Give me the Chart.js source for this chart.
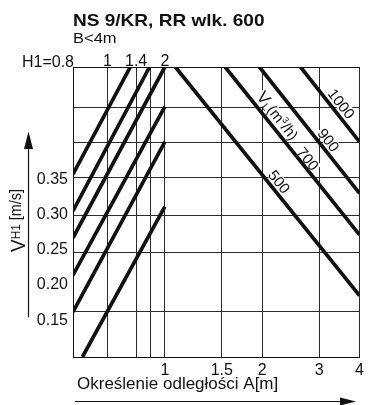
<!DOCTYPE html>
<html>
<head>
<meta charset="utf-8">
<script src="https://cdn.jsdelivr.net/npm/chart.js@4.4.0/dist/chart.umd.min.js"></script>
<style>
  html, body { margin: 0; padding: 0; background: #fff; }
  #wrap { width: 368px; height: 405px; position: relative; }
</style>
</head>
<body>
<div id="wrap"><canvas id="c"></canvas></div>
<script>
// ---- values of the nomogram ------------------------------------------
// distance A [m] (bottom, logarithmic)
const distanceTicks = [1, 1.5, 2, 3, 4];
const distanceRange = [0.52, 4];
// extra vertical rulings in the H1 part, and the H1 marks printed above them
const h1Rulings = [0.665, 0.815, 0.904];
const h1TickValues = [0.665, 0.815, 1];
const h1TickLabels = ['1', '1.4', '2'];
const h1StartLabel = 'H1=0.8';
// supply speed V_H1 [m/s]
const speedTicks = [0.15, 0.20, 0.25, 0.30, 0.35];
const speedRange = [0.098, 0.509];
const speedRulings = [0.162, 0.246, 0.299, 0.352, 0.402, 0.452];

// H1 family: six parallel lines, [start, end] for A and for V
const h1LineA = [[0.52, 0.782], [0.52, 0.897], [0.52, 1], [0.52, 1], [0.52, 1], [0.556, 1]];
const h1LineV = [[0.357, 0.509], [0.305, 0.509], [0.267, 0.509], [0.214, 0.453], [0.162, 0.403], [0.098, 0.311]];

// air volume family V_L [m3/h]
const flowLabels = ['500', '700', '900', '1000'];
const flowLineA = [[1.078, 4], [1.536, 4], [1.961, 4], [2.628, 4]];
const flowLineV = [[0.509, 0.185], [0.509, 0.271], [0.509, 0.330], [0.509, 0.403]];

// ---- drawing ------------------------------------------------------------
const FONT = '"Liberation Sans", Arial, Helvetica, sans-serif';
const INK = '#111';
const RULE = '#2b2b2b';

// where each flow label sits along its line (fraction t) and how far off it
const flowLabelPlace = [
  { t: 0.526, off: 9 },
  { t: 0.574, off: 7.5 },
  { t: 0.622, off: 9 },
  { t: 0.568, off: 9.5 }
];
const unitLabelPlace = { series: 1, t: 0.33, off: 10.5 };
const unitLabelParts = [
  { text: 'V', size: 17, dy: 0 },
  { text: 'L', size: 10, dy: 2 },
  { text: '(m', size: 15, dy: 0 },
  { text: '3', size: 9, dy: -6 },
  { text: '/h)', size: 15, dy: 0 }
];
const yTitleParts = [
  { text: 'V', size: 21, dy: 4.5 },
  { text: 'H1', size: 13, dy: -0.5 },
  { text: ' [m/s]', size: 16, dy: 0 }
];

function seg(a, v) {
  return [{ x: a[0], y: v[0] }, { x: a[1], y: v[1] }];
}

const lineStyle = {
  borderColor: INK,
  borderWidth: 3.7,
  borderCapStyle: 'butt',
  pointRadius: 0,
  fill: false,
  tension: 0
};

const datasets = [];
h1LineA.forEach((a, i) => datasets.push(Object.assign({ label: 'H1-' + i, data: seg(a, h1LineV[i]) }, lineStyle)));
const flowStart = datasets.length;
flowLabels.forEach((lab, i) => datasets.push(Object.assign({ label: lab, data: seg(flowLineA[i], flowLineV[i]) }, lineStyle)));

function partsWidth(ctx, parts) {
  let w = 0;
  parts.forEach(p => { ctx.font = p.size + 'px ' + FONT; w += ctx.measureText(p.text).width; });
  return w;
}
function drawParts(ctx, parts, x, y) {
  parts.forEach(p => {
    ctx.font = p.size + 'px ' + FONT;
    ctx.fillText(p.text, x, y + p.dy);
    x += ctx.measureText(p.text).width;
  });
}
// text set a little wider than the face, as in the printed heading
function drawWide(ctx, text, x, y, font, stretch) {
  ctx.save();
  ctx.font = font;
  ctx.translate(x, y);
  ctx.scale(stretch, 1);
  ctx.fillText(text, 0, 0);
  ctx.restore();
}

// geometry of a label laid along a flow line
function labelFrame(chart, series, place) {
  const pts = chart.getDatasetMeta(series).data;
  const p0 = pts[0], p1 = pts[1];
  const ang = Math.atan2(p1.y - p0.y, p1.x - p0.x);
  const x = p0.x + place.t * (p1.x - p0.x) + place.off * Math.sin(ang);
  const y = p0.y + place.t * (p1.y - p0.y) - place.off * Math.cos(ang);
  return { x, y, ang };
}

const lineLabels = {
  id: 'lineLabels',
  beforeDatasetsDraw(chart) {
    // white ground under the labels so the rulings stop at the text
    const ctx = chart.ctx;
    ctx.save();
    ctx.fillStyle = '#fff';
    const boxes = flowLabels.map((lab, i) => ({ s: flowStart + i, place: flowLabelPlace[i], w: (() => { ctx.font = '15px ' + FONT; return ctx.measureText(lab).width; })() }));
    boxes.push({ s: flowStart + unitLabelPlace.series, place: unitLabelPlace, w: partsWidth(ctx, unitLabelParts) });
    boxes.forEach(b => {
      const f = labelFrame(chart, b.s, b.place);
      ctx.save();
      ctx.translate(f.x, f.y);
      ctx.rotate(f.ang);
      ctx.fillRect(-b.w / 2 - 1, -6, b.w + 2, 12);
      ctx.restore();
    });
    ctx.restore();
  },
  afterDatasetsDraw(chart) {
    const ctx = chart.ctx;
    ctx.save();
    ctx.fillStyle = INK;
    ctx.textBaseline = 'alphabetic';
    ctx.textAlign = 'left';
    flowLabels.forEach((lab, i) => {
      const f = labelFrame(chart, flowStart + i, flowLabelPlace[i]);
      ctx.save();
      ctx.translate(f.x, f.y);
      ctx.rotate(f.ang);
      ctx.font = '15px ' + FONT;
      const w = ctx.measureText(lab).width;
      ctx.fillText(lab, -w / 2, 5.4);
      ctx.restore();
    });
    const f = labelFrame(chart, flowStart + unitLabelPlace.series, unitLabelPlace);
    ctx.save();
    ctx.translate(f.x, f.y);
    ctx.rotate(f.ang);
    drawParts(ctx, unitLabelParts, -partsWidth(ctx, unitLabelParts) / 2, 5.4);
    ctx.restore();
    ctx.restore();
  }
};

const frameText = {
  id: 'frameText',
  afterDraw(chart) {
    const ctx = chart.ctx;
    const area = chart.chartArea;
    ctx.save();
    ctx.fillStyle = INK;
    ctx.strokeStyle = INK;
    ctx.textBaseline = 'alphabetic';

    // heading
    ctx.textAlign = 'left';
    drawWide(ctx, 'NS 9/KR, RR wlk. 600', area.left, 25.5, 'bold 17px ' + FONT, 1.12);
    drawWide(ctx, 'B<4m', area.left, 42.5, '15px ' + FONT, 1.1);

    // H1 start mark at the left edge of the top scale
    ctx.font = '16px ' + FONT;
    ctx.textAlign = 'right';
    ctx.fillText(h1StartLabel, area.left + 1, 66.5);

    // bottom axis title and arrow
    ctx.textAlign = 'left';
    ctx.font = '17px ' + FONT;
    ctx.fillText('Określenie odległości A[m]', area.left + 4, 389);
    ctx.lineWidth = 1.2;
    ctx.beginPath();
    ctx.moveTo(area.left + 2, 401.5);
    ctx.lineTo(342, 401.5);
    ctx.stroke();
    ctx.beginPath();
    ctx.moveTo(356, 401.5);
    ctx.lineTo(340, 397.5);
    ctx.lineTo(340, 405.5);
    ctx.closePath();
    ctx.fill();

    // left axis title and arrow
    ctx.save();
    ctx.translate(20.5, 220.5);
    ctx.rotate(-Math.PI / 2);
    ctx.scale(0.9, 1);
    drawParts(ctx, yTitleParts, -partsWidth(ctx, yTitleParts) / 2, 0);
    ctx.restore();
    ctx.beginPath();
    ctx.moveTo(28.5, 317);
    ctx.lineTo(28.5, 146);
    ctx.stroke();
    ctx.beginPath();
    ctx.moveTo(28.5, 131.5);
    ctx.lineTo(24, 149);
    ctx.lineTo(33, 149);
    ctx.closePath();
    ctx.fill();
    ctx.restore();
  }
};

const tickFont = { family: FONT, size: 16 };

new Chart(document.getElementById('c'), {
  type: 'line',
  data: { datasets },
  options: {
    responsive: true,
    maintainAspectRatio: false,
    devicePixelRatio: 1,
    animation: false,
    events: [],
    layout: { padding: { left: 0, right: 5, top: 0, bottom: 0 } },
    plugins: { legend: { display: false }, tooltip: { enabled: false }, title: { display: false } },
    scales: {
      x: {
        type: 'logarithmic',
        position: 'bottom',
        min: distanceRange[0],
        max: distanceRange[1],
        afterBuildTicks: s => { s.ticks = h1Rulings.concat(distanceTicks).map(v => ({ value: v })); },
        afterFit: s => { s.height = 48; },
        ticks: {
          autoSkip: false, maxRotation: 0, padding: 4, color: INK, font: tickFont,
          callback: v => (distanceTicks.includes(v) ? String(v) : '')
        },
        grid: { color: RULE, lineWidth: 1, drawTicks: false },
        border: { display: true, color: INK, width: 1 }
      },
      xTop: {
        type: 'logarithmic',
        position: 'top',
        min: distanceRange[0],
        max: distanceRange[1],
        afterBuildTicks: s => { s.ticks = h1TickValues.map(v => ({ value: v })); },
        afterFit: s => { s.height = 67; },
        ticks: {
          autoSkip: false, maxRotation: 0, padding: -4, color: INK, font: tickFont,
          callback: (v, i) => h1TickLabels[i]
        },
        grid: { drawOnChartArea: false, drawTicks: false },
        border: { display: true, color: INK, width: 1 }
      },
      y: {
        type: 'linear',
        position: 'left',
        min: speedRange[0],
        max: speedRange[1],
        afterBuildTicks: s => { s.ticks = speedTicks.map(v => ({ value: v })); },
        afterFit: s => { s.width = 73; },
        ticks: {
          autoSkip: false, padding: 5, color: INK, font: tickFont,
          callback: v => v.toFixed(2)
        },
        grid: { drawOnChartArea: false, drawTicks: false },
        border: { display: true, color: INK, width: 1 }
      },
      yRule: {
        type: 'linear',
        position: 'left',
        min: speedRange[0],
        max: speedRange[1],
        afterBuildTicks: s => { s.ticks = speedRulings.map(v => ({ value: v })); },
        afterFit: s => { s.width = 0; },
        ticks: { display: false },
        grid: { color: RULE, lineWidth: 1, drawTicks: false },
        border: { display: false }
      }
    }
  },
  plugins: [lineLabels, frameText]
});
</script>
</body>
</html>
